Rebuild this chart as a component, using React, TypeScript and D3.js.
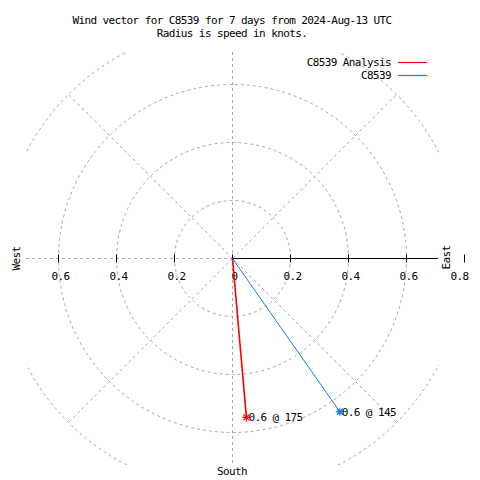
import React from "react";
import * as d3 from "d3";

// ---- data ----
const titleLines = [
  "Wind vector for C8539 for 7 days from 2024-Aug-13 UTC",
  "Radius is speed in knots.",
];
const seriesNames = ["C8539 Analysis", "C8539"];
const speeds = [0.55, 0.645];
const directions = [175, 145];
const gridRadii = [0.2, 0.4, 0.6, 0.8];
const gridAngles = [45, 135, 225, 315];
const rightTicks = [0, 0.2, 0.4, 0.6, 0.8];
const leftTicks = [0.2, 0.4, 0.6];
const compassLabels = ["West", "East", "South"];

// ---- styles ----
const colors = ["#ff0000", "#1a7ae6"];
const strokeWidths = [1.6, 1];
const FONT = "'DejaVu Sans Mono', 'Liberation Mono', monospace";
const FS = 11;
const LS = "-0.6px";

export default function App() {
  const W = 480, H = 480;
  const cx = 232.5, cy = 258.5;
  const half = 206.5;
  const r = d3.scaleLinear().domain([0, 0.8]).range([0, 232]);
  const fmt = d3.format(".1f");
  const tickFmt = (v: number) => (v === 0 ? "0" : d3.format(".1f")(v));

  const pt = (speed: number, dir: number) => {
    const a = (dir * Math.PI) / 180;
    return [cx + r(speed) * Math.sin(a), cy - r(speed) * Math.cos(a)];
  };

  const grid = "#a8a8a8";
  const dash = "3,3";

  const star = (x: number, y: number, c: string, k: number) => {
    const s = 4, d = 3;
    const p = d3.path();
    p.moveTo(x - s, y); p.lineTo(x + s, y);
    p.moveTo(x, y - s); p.lineTo(x, y + s);
    p.moveTo(x - d, y - d); p.lineTo(x + d, y + d);
    p.moveTo(x - d, y + d); p.lineTo(x + d, y - d);
    return <path key={"s" + k} d={p.toString()} stroke={c} strokeWidth={1.2} fill="none" />;
  };

  const textStyle = { fontFamily: FONT, fontSize: FS, letterSpacing: LS } as React.CSSProperties;

  return (
    <svg width={W} height={H} style={{ position: "fixed", left: 0, top: 0, background: "#fff" }}>
      <defs>
        <clipPath id="plotClip">
          <rect x={cx - half} y={cy - half} width={2 * half} height={2 * half} />
        </clipPath>
      </defs>
      <rect x={0} y={0} width={W} height={H} fill="#fff" />

      {/* title */}
      {titleLines.map((t, i) => (
        <text key={t} x={232} y={24 + i * 13} textAnchor="middle" style={textStyle} fill="#000">{t}</text>
      ))}

      {/* grid */}
      <g clipPath="url(#plotClip)" fill="none" stroke={grid} strokeWidth={1} strokeDasharray={dash}>
        {gridRadii.map((g) => (
          <circle key={g} cx={cx} cy={cy} r={r(g)} />
        ))}
        {gridAngles.map((a) => {
          const [x, y] = pt(0.8, a);
          return <line key={a} x1={cx} y1={cy} x2={x} y2={y} />;
        })}
        <line x1={cx} y1={cy - half} x2={cx} y2={cy + half} />
        <line x1={cx - half} y1={cy} x2={cx} y2={cy} />
      </g>

      {/* right axis */}
      <line x1={cx} y1={cy} x2={cx + half - 1} y2={cy} stroke="#000" strokeWidth={1.2} />
      {rightTicks.map((t) => (
        <line key={"rt" + t} x1={cx + r(t)} y1={cy - 4} x2={cx + r(t)} y2={cy + 4} stroke="#000" strokeWidth={1} />
      ))}
      {leftTicks.map((t) => (
        <line key={"lt" + t} x1={cx - r(t)} y1={cy - 4} x2={cx - r(t)} y2={cy + 4} stroke="#000" strokeWidth={1} />
      ))}
      {rightTicks.map((t) => (
        <text key={"rl" + t} x={t === 0.8 ? cx + r(t) - 5 : cx + r(t) + 2} y={280} textAnchor="middle" style={textStyle} fill="#000">
          {tickFmt(t)}
        </text>
      ))}
      {leftTicks.map((t) => (
        <text key={"ll" + t} x={cx - r(t) + 2} y={280} textAnchor="middle" style={textStyle} fill="#000">
          {tickFmt(t)}
        </text>
      ))}

      {/* compass labels */}
      <text x={0} y={0} transform={`translate(20,${cy}) rotate(-90)`} textAnchor="middle" style={textStyle} fill="#000">{compassLabels[0]}</text>
      <text x={0} y={0} transform={`translate(450,${cy - 1}) rotate(-90)`} textAnchor="middle" style={textStyle} fill="#000">{compassLabels[1]}</text>
      <text x={232} y={475} textAnchor="middle" style={textStyle} fill="#000">{compassLabels[2]}</text>

      {/* vectors */}
      {speeds.map((s, i) => {
        const [x, y] = pt(s, directions[i]);
        return (
          <g key={"v" + i}>
            <line x1={cx} y1={cy} x2={x} y2={y} stroke={colors[i]} strokeWidth={strokeWidths[i]} />
            {star(x, y, colors[i], i)}
            <text x={x + 2} y={y + 4} style={textStyle} fill="#000">{`${fmt(s)} @ ${directions[i]}`}</text>
          </g>
        );
      })}

      {/* legend */}
      {seriesNames.map((n, i) => (
        <g key={n}>
          <text x={391} y={66 + i * 13} textAnchor="end" style={textStyle} fill="#000">{n}</text>
          <line x1={398} x2={427} y1={62.5 + i * 13} y2={62.5 + i * 13} stroke={colors[i]} strokeWidth={1.2} />
        </g>
      ))}
    </svg>
  );
}
